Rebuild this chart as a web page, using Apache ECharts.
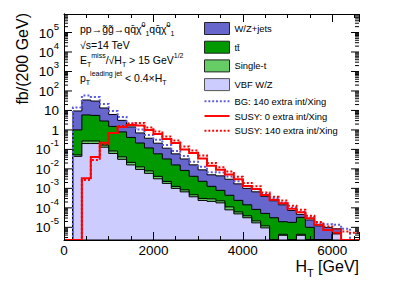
<!DOCTYPE html>
<html><head><meta charset="utf-8">
<script src="https://cdn.jsdelivr.net/npm/echarts@6/dist/echarts.min.js"></script>
<style>html,body{margin:0;padding:0;background:#fff}#c{width:399px;height:286px}</style>
</head><body><div id="c"></div>
<script>
// ---- data (bins of 200 GeV, values in fb/(200 GeV)) ----
const binEdges = [0,200,400,600,800,1000,1200,1400,1600,1800,2000,2200,2400,2600,2800,3000,3200,3400,3600,3800,4000,4200,4400,4600,4800,5000,5200,5400,5600,5800,6000,6200,6400,6600];
const wzJets = [0,8.4,28.6,24.8,10.5,4.7,2.3,1.02,0.49,0.256,0.149,0.083,0.043,0.024,0.0119,0.0066,0.0037,0.0036,0.0025,0.00146,0.00086,0.00058,0.00034,0.0002,0.000124,5.6e-5,1.4e-5,1.4e-5,1.19e-5,1.0e-5,3.8e-6,0,0];
const ttbar = [0,0.95,5.6,5.3,2.7,1.43,0.75,0.39,0.20,0.111,0.055,0.030,0.0147,0.0075,0.0037,0.0020,0.00098,0.00056,0.00033,0.00018,0.000104,6.2e-5,4.0e-5,3.1e-5,1.5e-5,1.8e-5,2.8e-5,1.0e-5,0,0,0,0,0];
const singleTop = [0,0.0084,0.070,0.070,0.036,0.021,0.0105,0.0056,0.0033,0.0020,0.00105,0.00048,0.00027,0.00018,0.0001,6.4e-5,7.5e-5,4.9e-5,3.3e-5,1.3e-5,8e-6,4.5e-6,2.5e-6,0,5e-7,0,5e-7,0,0,0,0,0,0];
const vbfWZ = [0,0.044,0.20,0.20,0.13,0.062,0.031,0.016,0.0094,0.0059,0.0031,0.0018,0.0010,0.00066,0.00037,0.00024,0.000215,0.00018,7.9e-5,4.9e-5,3.1e-5,1.7e-5,9.4e-6,0,3.9e-6,0,3.9e-6,0,0,0,4.6e-6,0,0];
const bgPileup140 = [0,14.2,58.8,49,21.5,9.4,4.6,2.15,1.06,0.55,0.31,0.17,0.084,0.046,0.023,0.0127,0.0068,0.0066,0.0041,0.0023,0.00134,0.00089,0.00052,0.00031,0.00019,0.0001,6.2e-5,3.3e-5,1.6e-5,1.43e-5,1.34e-5,8.4e-6,0];
const susyPileup0 = [0,0,0.0033,0.041,0.22,0.70,1.43,1.8,1.7,1.0,0.62,0.345,0.215,0.1,0.066,0.0345,0.0143,0.0089,0.0052,0.0029,0.00134,0.00094,0.00046,0.00026,0.00017,8.9e-5,5.9e-5,2.9e-5,1.34e-5,7.4e-6,5.2e-6,0,0];
const susyPileup140 = [0,0,0.0027,0.029,0.19,0.70,1.6,2.15,2.3,1.34,0.84,0.46,0.29,0.143,0.089,0.049,0.0203,0.012,0.0074,0.0039,0.0019,0.00127,0.00062,0.00037,0.00024,0.000127,7.9e-5,3.9e-5,1.9e-5,1.12e-5,7.9e-6,6.2e-6,5.2e-6];
const xTickLabels = [0,2000,4000,6000];
const yTickExponents = [-5,-4,-3,-2,-1,0,1,2,3,4,5];

// ---- setup ----
const FONT = "'Liberation Sans', Arial, Helvetica, sans-serif";
const X_MIN = 0, X_MAX = 6600;
const Y_MIN = Math.pow(10, -5.65), Y_MAX = Math.pow(10, 5.95);

// stacked tops (THStack style)
const vbfTop = vbfWZ.slice();
const stTop = vbfTop.map((v, i) => v + singleTop[i]);
const ttTop = stTop.map((v, i) => v + ttbar[i]);
const wzTop = ttTop.map((v, i) => v + wzJets[i]);

function stepPoints(api, vals, closed) {
  const pts = [];
  const c = v => Math.min(Math.max(v, Y_MIN), Y_MAX);
  if (closed) pts.push(api.coord([binEdges[0], Y_MIN]));
  for (let i = 0; i < vals.length; i++) {
    const v = c(vals[i]);
    pts.push(api.coord([binEdges[i], v]));
    pts.push(api.coord([binEdges[i + 1], v]));
  }
  if (closed) pts.push(api.coord([binEdges[binEdges.length - 1], Y_MIN]));
  return pts;
}

function fillLayer(name, top, color) {
  return {
    name, type: 'custom', coordinateSystem: 'cartesian2d', clip: true, silent: true, z: 2,
    itemStyle: {color: color, borderColor: '#000', borderWidth: 1},
    data: [[binEdges[0], 1]],
    renderItem: (p, api) => ({
      type: 'polygon', shape: {points: stepPoints(api, top, true)},
      style: {fill: color, stroke: '#000', lineWidth: 1}
    })
  };
}
function stepLine(name, vals, color, dash, width, z) {
  return {
    name, type: 'custom', coordinateSystem: 'cartesian2d', clip: true, silent: true, z: z,
    itemStyle: {color: color, borderWidth: 0},
    data: [[binEdges[0], 1]],
    renderItem: (p, api) => ({
      type: 'polyline', shape: {points: stepPoints(api, vals, false)},
      style: {stroke: color, lineWidth: width, lineDash: dash, fill: null}
    })
  };
}

// y ticks (ROOT style log ticks on both sides)
const yTicks = [];
for (let e = -6; e <= 5; e++) {
  for (let m = 1; m <= 9; m++) {
    const v = m * Math.pow(10, e);
    if (v >= Y_MIN && v <= Y_MAX) yTicks.push([m === 1 ? 1 : 0, v]);
  }
}

const sup = {fontSize: 9.5, lineHeight: 9, verticalAlign: 'top', fontFamily: FONT, fill: '#000'};

const chart = echarts.init(document.getElementById('c'), null, {renderer: 'svg'});
chart.setOption({
  animation: false,
  backgroundColor: '#fff',
  grid: {left: 64, right: 40, top: 14, bottom: 46, containLabel: false},
  xAxis: [
    {type: 'value', position: 'bottom', min: X_MIN, max: X_MAX, interval: 2000, z: 10,
     axisLine: {lineStyle: {color: '#000', width: 1}},
     axisTick: {inside: true, length: 8, lineStyle: {color: '#000'}},
     minorTick: {show: true, splitNumber: 4, length: 4, lineStyle: {color: '#000'}},
     splitLine: {show: false},
     axisLabel: {margin: 3, fontSize: 13.5, color: '#000', fontFamily: FONT,
       formatter: v => (xTickLabels.indexOf(v) >= 0 ? String(v) : '')}},
    {type: 'value', position: 'top', min: X_MIN, max: X_MAX, interval: 2000, z: 10,
     axisLine: {lineStyle: {color: '#000', width: 1}},
     axisTick: {inside: true, length: 8, lineStyle: {color: '#000'}},
     minorTick: {show: true, splitNumber: 4, length: 4, lineStyle: {color: '#000'}},
     splitLine: {show: false}, axisLabel: {show: false}}
  ],
  yAxis: [
    {type: 'log', logBase: 10, position: 'left', min: Y_MIN, max: Y_MAX, z: 10,
     axisLine: {show: true, lineStyle: {color: '#000', width: 1}},
     axisTick: {show: false}, axisLabel: {show: false}, splitLine: {show: false}, minorTick: {show: false}},
    {type: 'log', logBase: 10, position: 'right', min: Y_MIN, max: Y_MAX, z: 10,
     axisLine: {show: true, lineStyle: {color: '#000', width: 1}},
     axisTick: {show: false}, axisLabel: {show: false}, splitLine: {show: false}, minorTick: {show: false}}
  ],
  legend: {
    orient: 'vertical', left: 204, top: 22, itemWidth: 25, itemHeight: 12, itemGap: 5.7,
    padding: 0, selectedMode: false,
    textStyle: {fontSize: 9.4, color: '#000', fontFamily: FONT},
    data: [
      {name: 'W/Z+jets', icon: 'rect', itemStyle: {borderColor: '#222', borderWidth: 1}},
      {name: 'tt\u0304', icon: 'rect', itemStyle: {borderColor: '#222', borderWidth: 1}},
      {name: 'Single-t', icon: 'rect', itemStyle: {borderColor: '#222', borderWidth: 1}},
      {name: 'VBF W/Z', icon: 'rect', itemStyle: {borderColor: '#555', borderWidth: 1}},
      {name: 'BG: 140 extra int/Xing', icon: 'path://M0,0h2v2h-2zM4,0h2v2h-2zM8,0h2v2h-2zM12,0h2v2h-2zM16,0h2v2h-2zM20,0h2v2h-2zM24,0h2v2h-2z', itemStyle: {borderWidth: 0}},
      {name: 'SUSY: 0 extra int/Xing', icon: 'path://M0,0H26V2H0Z', itemStyle: {borderWidth: 0}},
      {name: 'SUSY: 140 extra int/Xing', icon: 'path://M0,0h2v2h-2zM4,0h2v2h-2zM8,0h2v2h-2zM12,0h2v2h-2zM16,0h2v2h-2zM20,0h2v2h-2zM24,0h2v2h-2z', itemStyle: {borderWidth: 0}}
    ]
  },
  series: [
    fillLayer('W/Z+jets', wzTop, '#6666cc'),
    fillLayer('tt\u0304', ttTop, '#009900'),
    fillLayer('Single-t', stTop, '#66cc66'),
    fillLayer('VBF W/Z', vbfTop, '#ccccff'),
    stepLine('BG: 140 extra int/Xing', bgPileup140, '#5c5ce0', [2, 2], 2, 3),
    stepLine('SUSY: 0 extra int/Xing', susyPileup0, '#ff0000', null, 2, 4),
    stepLine('SUSY: 140 extra int/Xing', susyPileup140, '#ff0000', [2, 2], 2, 5),
    {
      name: 'yticks', type: 'custom', coordinateSystem: 'cartesian2d', clip: false, silent: true, z: 11,
      data: yTicks,
      renderItem: (p, api) => {
        const len = api.value(0) ? 8 : 4;
        const v = api.value(1);
        const a = api.coord([X_MIN, v]), b = api.coord([X_MAX, v]);
        return {type: 'group', children: [
          {type: 'line', shape: {x1: a[0], y1: a[1], x2: a[0] + len, y2: a[1]}, style: {stroke: '#000', lineWidth: 1}},
          {type: 'line', shape: {x1: b[0], y1: b[1], x2: b[0] - len, y2: b[1]}, style: {stroke: '#000', lineWidth: 1}}
        ]};
      }
    },
    {
      name: 'ylabels', type: 'custom', coordinateSystem: 'cartesian2d', clip: false, silent: true, z: 11,
      data: yTickExponents.map(e => [X_MIN, Math.pow(10, e), e]),
      renderItem: (p, api) => {
        const e = api.value(2);
        const pt = api.coord([X_MIN, api.value(1)]);
        const txt = e === 0 ? '{b|1}' : e === 1 ? '{b|10}' : '{b|10}{s|' + e + '}';
        return {type: 'text', x: pt[0] - 5, y: pt[1] - 2,
          style: {text: txt, align: 'right', verticalAlign: 'middle', fill: '#000',
            rich: {b: {fontSize: 13.5, lineHeight: 19, fontFamily: FONT, fill: '#000', verticalAlign: 'bottom'}, s: sup}}};
      }
    }
  ],
  graphic: [
    {type: 'text', x: 22, y: 13, rotation: Math.PI / 2, z: 20,
     style: {text: 'fb/(200 GeV)', align: 'right', verticalAlign: 'middle', fontSize: 16, fontFamily: FONT, fill: '#000'}},
    {type: 'text', x: 359, y: 268, z: 20,
     style: {text: '{m|H}{sb|T}{m| [GeV]}', align: 'right', verticalAlign: 'middle',
       rich: {m: {fontSize: 16, lineHeight: 20, fontFamily: FONT, fill: '#000', verticalAlign: 'top'},
              sb: {fontSize: 11, lineHeight: 10, fontFamily: FONT, fill: '#000', verticalAlign: 'bottom'}}}},
    {type: 'text', x: 80, y: 29, z: 20,
     style: {text: '{m|pp\u2192g\u0303g\u0303\u2192qq\u0304\u03C7\u0303}{sp|0}{sb|1}{m|qq\u0304\u03C7\u0303}{sp|0}{sb|1}', align: 'left', verticalAlign: 'middle',
       rich: {m: {fontSize: 10.5, lineHeight: 16, fontFamily: FONT, fill: '#000'},
              sp: {fontSize: 7, lineHeight: 8, verticalAlign: 'top', fontFamily: FONT, fill: '#000'},
              sb: {fontSize: 7, lineHeight: 7, verticalAlign: 'bottom', fontFamily: FONT, fill: '#000'}}}},
    {type: 'text', x: 80, y: 44.5, z: 20,
     style: {text: '\u221As=14 TeV', align: 'left', verticalAlign: 'middle', fontSize: 10.5, fontFamily: FONT, fill: '#000'}},
    {type: 'text', x: 80, y: 60, z: 20,
     style: {text: '{m|E}{sb|T}{sp|miss}{m|/\u221AH}{sb|T}{m| > 15 GeV}{sp|1/2}', align: 'left', verticalAlign: 'middle',
       rich: {m: {fontSize: 10.5, lineHeight: 16, fontFamily: FONT, fill: '#000'},
              sp: {fontSize: 7, lineHeight: 8, verticalAlign: 'top', fontFamily: FONT, fill: '#000'},
              sb: {fontSize: 7, lineHeight: 7, verticalAlign: 'bottom', fontFamily: FONT, fill: '#000'}}}},
    {type: 'text', x: 80, y: 78, z: 20,
     style: {text: '{m|p}{sb|T}{sp|leading jet}{m| < 0.4\u00D7H}{sb|T}', align: 'left', verticalAlign: 'middle',
       rich: {m: {fontSize: 10.5, lineHeight: 16, fontFamily: FONT, fill: '#000'},
              sp: {fontSize: 7, lineHeight: 8, verticalAlign: 'top', fontFamily: FONT, fill: '#000'},
              sb: {fontSize: 7, lineHeight: 7, verticalAlign: 'bottom', fontFamily: FONT, fill: '#000'}}}}
  ]
});
</script>
</body></html>
